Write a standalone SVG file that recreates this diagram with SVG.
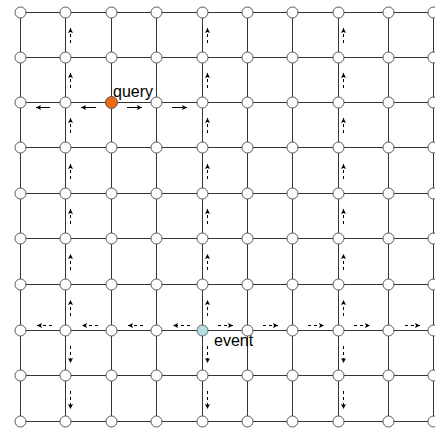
<svg xmlns="http://www.w3.org/2000/svg" width="435" height="428" viewBox="0 0 435 428">
<style>
.g{stroke:#333;stroke-width:1;fill:none}
.n{fill:#fff;stroke:#555;stroke-width:1}
.a{stroke:#000;stroke-width:1;fill:none;marker-end:url(#ah)}
.d{stroke:#000;stroke-width:1;fill:none;stroke-dasharray:3 3;marker-end:url(#ah)}
.t{font-family:"Liberation Sans",Arial,sans-serif;font-size:16px;fill:#000}
</style>
<defs>
<marker id="ah" markerWidth="7" markerHeight="7" refX="5" refY="3" orient="auto" markerUnits="userSpaceOnUse">
<path d="M0,0.5 L5,3 L0,5.5 L1,3 z" fill="#000"/>
</marker>
</defs>
<rect width="435" height="428" fill="#fff"/>
<g id="connectors">
<line class="g" x1="20.5" y1="12.5" x2="433.5" y2="12.5"/>
<line class="g" x1="20.5" y1="57.5" x2="433.5" y2="57.5"/>
<line class="g" x1="20.5" y1="102.5" x2="433.5" y2="102.5"/>
<line class="g" x1="20.5" y1="147.5" x2="433.5" y2="147.5"/>
<line class="g" x1="20.5" y1="193.5" x2="433.5" y2="193.5"/>
<line class="g" x1="20.5" y1="238.5" x2="433.5" y2="238.5"/>
<line class="g" x1="20.5" y1="284.5" x2="433.5" y2="284.5"/>
<line class="g" x1="20.5" y1="330.5" x2="433.5" y2="330.5"/>
<line class="g" x1="20.5" y1="375.5" x2="433.5" y2="375.5"/>
<line class="g" x1="20.5" y1="421.5" x2="433.5" y2="421.5"/>
<line class="g" x1="20.5" y1="12.5" x2="20.5" y2="421.5"/>
<line class="g" x1="65.5" y1="12.5" x2="65.5" y2="421.5"/>
<line class="g" x1="111.5" y1="12.5" x2="111.5" y2="421.5"/>
<line class="g" x1="156.5" y1="12.5" x2="156.5" y2="421.5"/>
<line class="g" x1="202.5" y1="12.5" x2="202.5" y2="421.5"/>
<line class="g" x1="247.5" y1="12.5" x2="247.5" y2="421.5"/>
<line class="g" x1="292.5" y1="12.5" x2="292.5" y2="421.5"/>
<line class="g" x1="338.5" y1="12.5" x2="338.5" y2="421.5"/>
<line class="g" x1="388.5" y1="12.5" x2="388.5" y2="421.5"/>
<line class="g" x1="433.5" y1="12.5" x2="433.5" y2="421.5"/>
</g>
<g id="arrows">
<path class="a" d="M50,107.5 H36"/>
<path class="a" d="M96,107.5 H81"/>
<path class="a" d="M127,107.5 H142"/>
<path class="a" d="M172,107.5 H187"/>
<path class="d" d="M52,325.5 H37"/>
<path class="d" d="M98,325.5 H82"/>
<path class="d" d="M143,325.5 H128"/>
<path class="d" d="M190,325.5 H173"/>
<path class="d" d="M218,325.5 H233"/>
<path class="d" d="M263,325.5 H278"/>
<path class="d" d="M308,325.5 H324"/>
<path class="d" d="M354,325.5 H370"/>
<path class="d" d="M405,325.5 H420"/>
<path class="d" d="M70.5,43 V28"/><path class="d" d="M70.5,88 V73"/><path class="d" d="M70.5,133 V118"/><path class="d" d="M70.5,179 V164"/><path class="d" d="M70.5,224 V209"/><path class="d" d="M70.5,270 V254"/><path class="d" d="M70.5,316 V300"/><path class="d" d="M70.5,346 V363"/><path class="d" d="M70.5,391 V409"/>
<path class="d" d="M207.5,43 V28"/><path class="d" d="M207.5,88 V73"/><path class="d" d="M207.5,133 V118"/><path class="d" d="M207.5,179 V164"/><path class="d" d="M207.5,224 V209"/><path class="d" d="M207.5,270 V254"/><path class="d" d="M207.5,316 V300"/><path class="d" d="M207.5,346 V363"/><path class="d" d="M207.5,391 V409"/>
<path class="d" d="M343.5,43 V28"/><path class="d" d="M343.5,88 V73"/><path class="d" d="M343.5,133 V118"/><path class="d" d="M343.5,179 V164"/><path class="d" d="M343.5,224 V209"/><path class="d" d="M343.5,270 V254"/><path class="d" d="M343.5,316 V300"/><path class="d" d="M343.5,346 V363"/><path class="d" d="M343.5,391 V409"/>
</g>
<g id="nodes">
<g id="n0_0"><circle class="n" cx="20.5" cy="12.5" r="5.5"/></g>
<g id="n0_1"><circle class="n" cx="65.5" cy="12.5" r="5.5"/></g>
<g id="n0_2"><circle class="n" cx="111.5" cy="12.5" r="5.5"/></g>
<g id="n0_3"><circle class="n" cx="156.5" cy="12.5" r="5.5"/></g>
<g id="n0_4"><circle class="n" cx="202.5" cy="12.5" r="5.5"/></g>
<g id="n0_5"><circle class="n" cx="247.5" cy="12.5" r="5.5"/></g>
<g id="n0_6"><circle class="n" cx="292.5" cy="12.5" r="5.5"/></g>
<g id="n0_7"><circle class="n" cx="338.5" cy="12.5" r="5.5"/></g>
<g id="n0_8"><circle class="n" cx="388.5" cy="12.5" r="5.5"/></g>
<g id="n0_9"><circle class="n" cx="433.5" cy="12.5" r="5.5"/></g>
<g id="n1_0"><circle class="n" cx="20.5" cy="57.5" r="5.5"/></g>
<g id="n1_1"><circle class="n" cx="65.5" cy="57.5" r="5.5"/></g>
<g id="n1_2"><circle class="n" cx="111.5" cy="57.5" r="5.5"/></g>
<g id="n1_3"><circle class="n" cx="156.5" cy="57.5" r="5.5"/></g>
<g id="n1_4"><circle class="n" cx="202.5" cy="57.5" r="5.5"/></g>
<g id="n1_5"><circle class="n" cx="247.5" cy="57.5" r="5.5"/></g>
<g id="n1_6"><circle class="n" cx="292.5" cy="57.5" r="5.5"/></g>
<g id="n1_7"><circle class="n" cx="338.5" cy="57.5" r="5.5"/></g>
<g id="n1_8"><circle class="n" cx="388.5" cy="57.5" r="5.5"/></g>
<g id="n1_9"><circle class="n" cx="433.5" cy="57.5" r="5.5"/></g>
<g id="n2_0"><circle class="n" cx="20.5" cy="102.5" r="5.5"/></g>
<g id="n2_1"><circle class="n" cx="65.5" cy="102.5" r="5.5"/></g>
<g id="query"><circle cx="111.5" cy="102.5" r="6" fill="#f2690f" stroke="#555" stroke-width="1"/><text class="t" x="113" y="97">query</text></g>
<g id="n2_3"><circle class="n" cx="156.5" cy="102.5" r="5.5"/></g>
<g id="n2_4"><circle class="n" cx="202.5" cy="102.5" r="5.5"/></g>
<g id="n2_5"><circle class="n" cx="247.5" cy="102.5" r="5.5"/></g>
<g id="n2_6"><circle class="n" cx="292.5" cy="102.5" r="5.5"/></g>
<g id="n2_7"><circle class="n" cx="338.5" cy="102.5" r="5.5"/></g>
<g id="n2_8"><circle class="n" cx="388.5" cy="102.5" r="5.5"/></g>
<g id="n2_9"><circle class="n" cx="433.5" cy="102.5" r="5.5"/></g>
<g id="n3_0"><circle class="n" cx="20.5" cy="147.5" r="5.5"/></g>
<g id="n3_1"><circle class="n" cx="65.5" cy="147.5" r="5.5"/></g>
<g id="n3_2"><circle class="n" cx="111.5" cy="147.5" r="5.5"/></g>
<g id="n3_3"><circle class="n" cx="156.5" cy="147.5" r="5.5"/></g>
<g id="n3_4"><circle class="n" cx="202.5" cy="147.5" r="5.5"/></g>
<g id="n3_5"><circle class="n" cx="247.5" cy="147.5" r="5.5"/></g>
<g id="n3_6"><circle class="n" cx="292.5" cy="147.5" r="5.5"/></g>
<g id="n3_7"><circle class="n" cx="338.5" cy="147.5" r="5.5"/></g>
<g id="n3_8"><circle class="n" cx="388.5" cy="147.5" r="5.5"/></g>
<g id="n3_9"><circle class="n" cx="433.5" cy="147.5" r="5.5"/></g>
<g id="n4_0"><circle class="n" cx="20.5" cy="193.5" r="5.5"/></g>
<g id="n4_1"><circle class="n" cx="65.5" cy="193.5" r="5.5"/></g>
<g id="n4_2"><circle class="n" cx="111.5" cy="193.5" r="5.5"/></g>
<g id="n4_3"><circle class="n" cx="156.5" cy="193.5" r="5.5"/></g>
<g id="n4_4"><circle class="n" cx="202.5" cy="193.5" r="5.5"/></g>
<g id="n4_5"><circle class="n" cx="247.5" cy="193.5" r="5.5"/></g>
<g id="n4_6"><circle class="n" cx="292.5" cy="193.5" r="5.5"/></g>
<g id="n4_7"><circle class="n" cx="338.5" cy="193.5" r="5.5"/></g>
<g id="n4_8"><circle class="n" cx="388.5" cy="193.5" r="5.5"/></g>
<g id="n4_9"><circle class="n" cx="433.5" cy="193.5" r="5.5"/></g>
<g id="n5_0"><circle class="n" cx="20.5" cy="238.5" r="5.5"/></g>
<g id="n5_1"><circle class="n" cx="65.5" cy="238.5" r="5.5"/></g>
<g id="n5_2"><circle class="n" cx="111.5" cy="238.5" r="5.5"/></g>
<g id="n5_3"><circle class="n" cx="156.5" cy="238.5" r="5.5"/></g>
<g id="n5_4"><circle class="n" cx="202.5" cy="238.5" r="5.5"/></g>
<g id="n5_5"><circle class="n" cx="247.5" cy="238.5" r="5.5"/></g>
<g id="n5_6"><circle class="n" cx="292.5" cy="238.5" r="5.5"/></g>
<g id="n5_7"><circle class="n" cx="338.5" cy="238.5" r="5.5"/></g>
<g id="n5_8"><circle class="n" cx="388.5" cy="238.5" r="5.5"/></g>
<g id="n5_9"><circle class="n" cx="433.5" cy="238.5" r="5.5"/></g>
<g id="n6_0"><circle class="n" cx="20.5" cy="284.5" r="5.5"/></g>
<g id="n6_1"><circle class="n" cx="65.5" cy="284.5" r="5.5"/></g>
<g id="n6_2"><circle class="n" cx="111.5" cy="284.5" r="5.5"/></g>
<g id="n6_3"><circle class="n" cx="156.5" cy="284.5" r="5.5"/></g>
<g id="n6_4"><circle class="n" cx="202.5" cy="284.5" r="5.5"/></g>
<g id="n6_5"><circle class="n" cx="247.5" cy="284.5" r="5.5"/></g>
<g id="n6_6"><circle class="n" cx="292.5" cy="284.5" r="5.5"/></g>
<g id="n6_7"><circle class="n" cx="338.5" cy="284.5" r="5.5"/></g>
<g id="n6_8"><circle class="n" cx="388.5" cy="284.5" r="5.5"/></g>
<g id="n6_9"><circle class="n" cx="433.5" cy="284.5" r="5.5"/></g>
<g id="n7_0"><circle class="n" cx="20.5" cy="330.5" r="5.5"/></g>
<g id="n7_1"><circle class="n" cx="65.5" cy="330.5" r="5.5"/></g>
<g id="n7_2"><circle class="n" cx="111.5" cy="330.5" r="5.5"/></g>
<g id="n7_3"><circle class="n" cx="156.5" cy="330.5" r="5.5"/></g>
<g id="event"><circle cx="202.5" cy="330.5" r="5.5" fill="#b3dfe0" stroke="#666" stroke-width="1"/><text class="t" x="214" y="346">event</text></g>
<g id="n7_5"><circle class="n" cx="247.5" cy="330.5" r="5.5"/></g>
<g id="n7_6"><circle class="n" cx="292.5" cy="330.5" r="5.5"/></g>
<g id="n7_7"><circle class="n" cx="338.5" cy="330.5" r="5.5"/></g>
<g id="n7_8"><circle class="n" cx="388.5" cy="330.5" r="5.5"/></g>
<g id="n7_9"><circle class="n" cx="433.5" cy="330.5" r="5.5"/></g>
<g id="n8_0"><circle class="n" cx="20.5" cy="375.5" r="5.5"/></g>
<g id="n8_1"><circle class="n" cx="65.5" cy="375.5" r="5.5"/></g>
<g id="n8_2"><circle class="n" cx="111.5" cy="375.5" r="5.5"/></g>
<g id="n8_3"><circle class="n" cx="156.5" cy="375.5" r="5.5"/></g>
<g id="n8_4"><circle class="n" cx="202.5" cy="375.5" r="5.5"/></g>
<g id="n8_5"><circle class="n" cx="247.5" cy="375.5" r="5.5"/></g>
<g id="n8_6"><circle class="n" cx="292.5" cy="375.5" r="5.5"/></g>
<g id="n8_7"><circle class="n" cx="338.5" cy="375.5" r="5.5"/></g>
<g id="n8_8"><circle class="n" cx="388.5" cy="375.5" r="5.5"/></g>
<g id="n8_9"><circle class="n" cx="433.5" cy="375.5" r="5.5"/></g>
<g id="n9_0"><circle class="n" cx="20.5" cy="421.5" r="5.5"/></g>
<g id="n9_1"><circle class="n" cx="65.5" cy="421.5" r="5.5"/></g>
<g id="n9_2"><circle class="n" cx="111.5" cy="421.5" r="5.5"/></g>
<g id="n9_3"><circle class="n" cx="156.5" cy="421.5" r="5.5"/></g>
<g id="n9_4"><circle class="n" cx="202.5" cy="421.5" r="5.5"/></g>
<g id="n9_5"><circle class="n" cx="247.5" cy="421.5" r="5.5"/></g>
<g id="n9_6"><circle class="n" cx="292.5" cy="421.5" r="5.5"/></g>
<g id="n9_7"><circle class="n" cx="338.5" cy="421.5" r="5.5"/></g>
<g id="n9_8"><circle class="n" cx="388.5" cy="421.5" r="5.5"/></g>
<g id="n9_9"><circle class="n" cx="433.5" cy="421.5" r="5.5"/></g>
</g>
</svg>
